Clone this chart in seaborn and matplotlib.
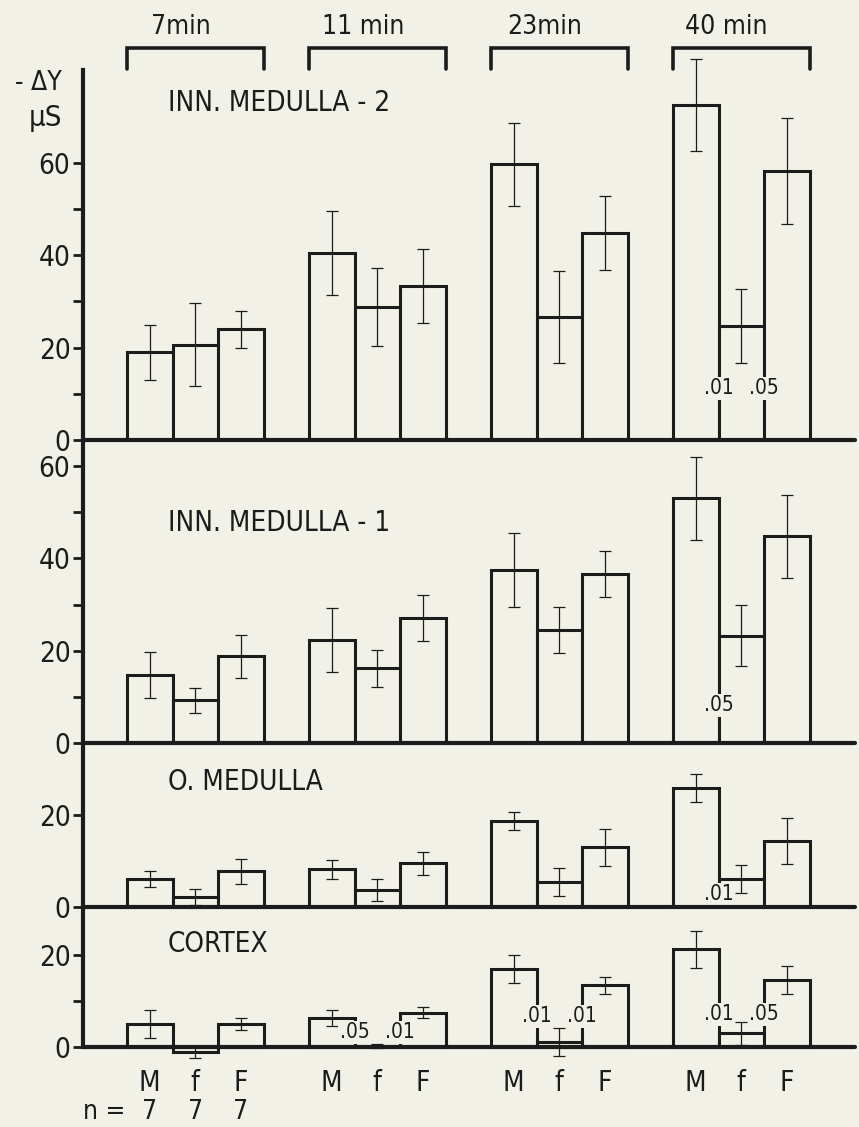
import pandas as pd
import seaborn as sns
import matplotlib.pyplot as plt

# Zeitpunkte, Gruppen und Tiefe der Schichten
times = ['7min', '11 min', '23min', '40 min']
groups = ['M', 'f', 'F']
n_per_group = ['7', '7', '7']
panel_titles = ['INN. MEDULLA - 2', 'INN. MEDULLA - 1', 'O. MEDULLA', 'CORTEX']

# Mittelwerte (Zeilen = Zeit, Spalten = M, f, F) und Fehler
med2_mean = [[19.0, 20.6, 24.0], [40.5, 28.8, 33.4], [59.7, 26.7, 44.9], [72.5, 24.7, 58.2]]
med2_err = [[6.0, 9.0, 4.0], [9.0, 8.5, 8.0], [9.0, 10.0, 8.0], [10.0, 8.0, 11.5]]

med1_mean = [[14.7, 9.3, 18.8], [22.3, 16.2, 27.0], [37.4, 24.5, 36.6], [53.0, 23.2, 44.8]]
med1_err = [[5.0, 2.7, 4.6], [7.0, 4.0, 5.0], [8.0, 5.0, 5.0], [9.0, 6.6, 9.0]]

omed_mean = [[6.1, 2.2, 7.8], [8.2, 3.7, 9.5], [18.6, 5.4, 13.0], [25.8, 6.1, 14.3]]
omed_err = [[1.7, 1.8, 2.7], [2.0, 2.3, 2.5], [2.0, 3.0, 4.0], [3.0, 3.0, 5.0]]

cortex_mean = [[5.0, -1.1, 5.0], [6.3, 0.3, 7.4], [16.9, 1.1, 13.4], [21.2, 3.0, 14.5]]
cortex_err = [[3.0, 1.3, 1.3], [1.8, 0.4, 1.2], [3.0, 3.0, 1.8], [4.0, 2.5, 3.0]]

# Signifikanzen: (Zeitindex, linker Balken, Text, Hoehe)
med2_sig = [(3, 0, '.01', 11.2), (3, 1, '.05', 11.2)]
med1_sig = [(3, 0, '.05', 8.2)]
omed_sig = [(3, 0, '.01', 2.8)]
cortex_sig = [(1, 0, '.05', 3.2), (1, 1, '.01', 3.2), (2, 0, '.01', 6.7),
              (2, 1, '.01', 6.7), (3, 0, '.01', 7.1), (3, 1, '.05', 7.1)]

panel_data = [(med2_mean, med2_err, med2_sig), (med1_mean, med1_err, med1_sig),
              (omed_mean, omed_err, omed_sig), (cortex_mean, cortex_err, cortex_sig)]

ylims = [(0, 80.1), (0, 65.6), (0, 35.5), (-3.9, 30.3)]
yticks_major = [[0, 20, 40, 60], [0, 20, 40, 60], [0, 20], [0, 20]]
yticks_minor = [[10, 30, 50], [10, 30, 50], [], [10]]

ink = '#1c1c1c'
paper = '#f2f1e8'

sns.set_style('ticks')
plt.rcParams['font.family'] = ['DejaVu Sans']
plt.rcParams['font.stretch'] = 'condensed'
plt.rcParams['text.color'] = ink
plt.rcParams['axes.edgecolor'] = ink
plt.rcParams['xtick.color'] = ink
plt.rcParams['ytick.color'] = ink

W, H = 859, 1127
px_per_unit = 4.62
left_px, right_px, top_px = 83, 855, 70

fig = plt.figure(figsize=(W / 100, H / 100), dpi=100, facecolor=paper)

axes = []
bars = []
y_cursor = top_px
for k, (lo, hi) in enumerate(ylims):
    h_px = (hi - lo) * px_per_unit
    rect = [left_px / W, 1 - (y_cursor + h_px) / H, (right_px - left_px) / W, h_px / H]
    ax = fig.add_axes(rect)
    ax.set_facecolor('none')
    axes.append(ax)
    y_cursor += h_px

for k, ax in enumerate(axes):
    means, errs, sigs = panel_data[k]
    rows = []
    for t, tm in enumerate(times):
        for i, g in enumerate(groups):
            rows.append({'time': tm, 'group': g, 'value': means[t][i]})
    df = pd.DataFrame(rows)

    sns.barplot(data=df, x='time', y='value', hue='group', order=times, hue_order=groups,
                palette={g: paper for g in groups}, saturation=1, width=0.75, gap=0,
                edgecolor=ink, linewidth=2.2, errorbar=None, legend=False, ax=ax)
    conts = list(ax.containers)
    bars.append(conts)

    # Fehlerbalken an den Balkenmitten
    for i, cont in enumerate(conts):
        xs = [b.get_x() + b.get_width() / 2 for b in cont]
        ax.errorbar(xs, [means[t][i] for t in range(len(times))],
                    yerr=[errs[t][i] for t in range(len(times))],
                    fmt='none', ecolor=ink, elinewidth=0.9, capsize=4, capthick=0.9,
                    clip_on=False, zorder=3)

    # Signifikanz-Angaben auf den Balkengrenzen
    for t, i, txt, yv in sigs:
        b = conts[i][t]
        ax.text(b.get_x() + b.get_width(), yv, txt, ha='center', va='center', fontsize=15,
                zorder=4, bbox=dict(facecolor=paper, edgecolor='none', pad=1.0))

    ax.axhline(0, color=ink, lw=3, clip_on=False, zorder=5)
    ax.set_xlim(-0.617, 3.625)
    ax.set_ylim(*ylims[k])
    for s in ['top', 'right', 'bottom']:
        ax.spines[s].set_visible(False)
    ax.spines['left'].set_linewidth(3)
    ax.spines['left'].set_bounds(0, ylims[k][1])
    ax.set_yticks(yticks_major[k])
    ax.set_yticks(yticks_minor[k], minor=True)
    ax.tick_params(axis='y', which='both', direction='out', length=7, width=2,
                   labelsize=20, pad=2)
    ax.set_xlabel('')
    ax.set_ylabel('')
    ax.text(-0.15, [72.9, 47.6, 27.0, 22.3][k], panel_titles[k], ha='left', va='center',
            fontsize=20)
    if k < 3:
        ax.set_xticks([])

# Zeitklammern oben
ax0 = axes[0]
for t, tm in enumerate(times):
    x_l = bars[0][0][t].get_x()
    x_r = bars[0][2][t].get_x() + bars[0][2][t].get_width()
    ax0.plot([x_l, x_l, x_r, x_r], [80.3, 84.8, 84.8, 80.3], color=ink, lw=2.6,
             clip_on=False, solid_joinstyle='miter')
    ax0.text((x_l + x_r) / 2 - 0.08, 89.4, tm, ha='center', va='center', fontsize=19)

# Gruppenbeschriftung unten
ax3 = axes[3]
centers, labels = [], []
for t in range(len(times)):
    for i, g in enumerate(groups):
        b = bars[3][i][t]
        centers.append(b.get_x() + b.get_width() / 2)
        labels.append(g)
ax3.set_xticks(centers, labels)
ax3.tick_params(axis='x', length=0, labelsize=20, pad=3)
ax3.text(-0.617, -0.342, 'n =', transform=ax3.get_xaxis_transform(), ha='left',
         va='baseline', fontsize=19)
for i, n in enumerate(n_per_group):
    ax3.text(centers[i], -0.342, n, transform=ax3.get_xaxis_transform(), ha='center',
             va='baseline', fontsize=19)

fig.text(62 / W, 1 - 83 / H, '- ΔY', ha='right', va='center', fontsize=19)
fig.text(62 / W, 1 - 118 / H, 'μS', ha='right', va='center', fontsize=21)

fig.savefig('out.png', dpi=100, facecolor=paper)
